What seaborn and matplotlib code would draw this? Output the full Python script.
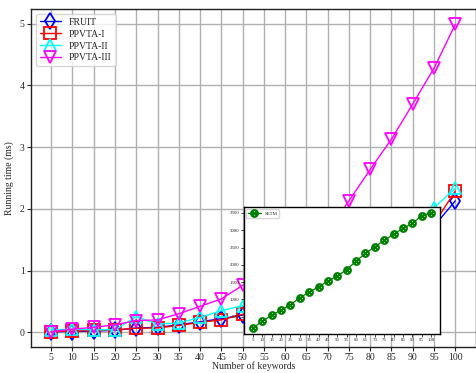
import matplotlib
matplotlib.use("Agg")
import matplotlib.pyplot as plt
import seaborn as sns
import numpy as np

keywords = [5, 10, 15, 20, 25, 30, 35, 40, 45, 50, 55, 60, 65, 70, 75, 80, 85, 90, 95, 100]
fruit   = [0.01, 0.01, 0.02, 0.03, 0.07, 0.08, 0.12, 0.17, 0.22, 0.28, 0.36, 0.45, 0.56, 0.68, 0.82, 0.98, 1.16, 1.40, 1.72, 2.13]
ppvta1  = [0.01, 0.02, 0.03, 0.04, 0.065, 0.07, 0.11, 0.16, 0.20, 0.29, 0.37, 0.47, 0.58, 0.70, 0.85, 1.01, 1.20, 1.44, 1.76, 2.29]
ppvta2  = [0.04, 0.05, 0.04, 0.04, 0.25, 0.135, 0.15, 0.24, 0.35, 0.43, 0.52, 0.62, 0.74, 0.88, 1.04, 1.22, 1.44, 1.70, 2.02, 2.33]
ppvta3  = [0.01, 0.05, 0.08, 0.12, 0.19, 0.20, 0.30, 0.42, 0.54, 0.76, 0.95, 1.15, 1.38, 1.63, 2.13, 2.64, 3.13, 3.70, 4.28, 4.99]
setm    = [182, 364, 546, 691, 847, 1049, 1211, 1367, 1529, 1685, 1858, 2107, 2329, 2523, 2705, 2887, 3052, 3197, 3419, 3505]

sns.set_style("whitegrid", {"grid.color": "#b0b0b0", "axes.edgecolor": "#222222"})
plt.rcParams['font.family'] = ['Liberation Serif', 'DejaVu Serif']
plt.rcParams['mathtext.fontset'] = 'dejavusans'

fig = plt.figure(figsize=(4.76, 3.73), dpi=100)
ax = fig.add_axes([31/476, 26/373, 444.5/476, 338/373])

series = [
    ("FRUIT", fruit, "blue", "d"),
    ("PPVTA-I", ppvta1, "red", "s"),
    ("PPVTA-II", ppvta2, "cyan", "^"),
    ("PPVTA-III", ppvta3, "magenta", "v"),
]
for name, vals, col, mk in series:
    sns.lineplot(x=keywords, y=vals, ax=ax, color=col, marker=mk, markersize=8,
                 markerfacecolor='none', markeredgecolor=col, markeredgewidth=1.3,
                 linewidth=1.0, label=name)

ax.set_xticks(keywords)
ax.set_yticks([0, 1, 2, 3, 4, 5])
ax.tick_params(axis='both', labelsize=7, length=3, width=0.8, direction='out',
               bottom=True, left=True, pad=1.5)
ax.set_xlabel("Number of keywords", fontsize=7, labelpad=-0.5)
ax.set_ylabel("Running time (ms)", fontsize=7, labelpad=4)
ax.grid(True, color="#b0b0b0", linewidth=1.0)
for s in ax.spines.values():
    s.set_linewidth(1.0)
leg = ax.legend(loc="upper left", fontsize=7, frameon=True, borderpad=0.4,
                handlelength=2.2, labelspacing=0.3, fancybox=True, framealpha=0.8)
leg.get_frame().set_edgecolor("#cccccc")

ins = fig.add_axes([244/476, 39.5/373, 196/476, 126.5/373])
ins.set_facecolor("white")
sns.lineplot(x=keywords, y=setm, ax=ins, color="green", marker=r"$\otimes$",
             markersize=5.5, markeredgewidth=0.8, markeredgecolor="green",
             linewidth=0.9, label="SETM")
ins.grid(False)
ins.set_xticks(keywords)
ins.set_yticks([500, 1000, 1500, 2000, 2500, 3000, 3500])
ins.tick_params(axis='both', labelsize=3.5, length=2, width=0.6, direction='out',
                bottom=True, left=True, pad=1.5)
for s in ins.spines.values():
    s.set_edgecolor("black")
    s.set_linewidth(1.0)
ileg = ins.legend(loc="upper left", fontsize=3.5, frameon=True, borderpad=0.4,
                  handlelength=2.5, fancybox=True)
ileg.get_frame().set_edgecolor("#cccccc")

fig.savefig("out.png", dpi=100)
